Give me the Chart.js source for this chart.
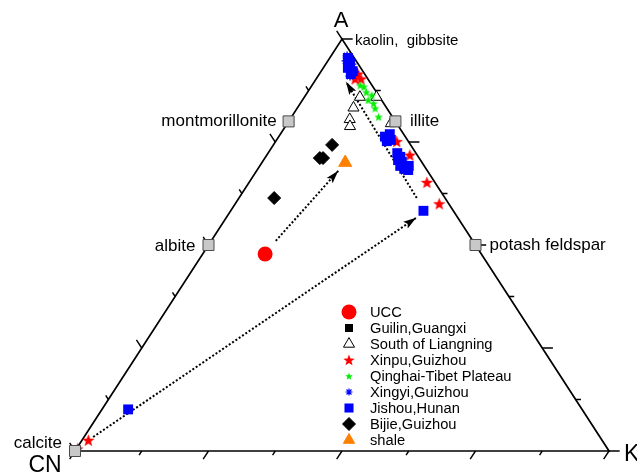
<!DOCTYPE html>
<html>
<head>
<meta charset="utf-8">
<script src="https://cdn.jsdelivr.net/npm/chart.js@4/dist/chart.umd.min.js"></script>
<style>
  html, body { margin: 0; padding: 0; background: #fff; overflow: hidden; }
  #wrap { width: 637px; height: 475px; }
</style>
</head>
<body>
<div id="wrap"><canvas id="c" width="637" height="475"></canvas></div>
<script>
// Compositions as [A, CN, K] molar proportions (%)
const uccPts       = [[47.8, 40.5, 11.7]];
const guilinPts    = [[94.9, 1.2, 3.9], [93.5, 1.6, 4.9]];
const liangningPts = [[85.9, 3.7, 10.4], [83.3, 6.2, 10.5], [80.5, 8.3, 11.2], [78.8, 9.1, 12.1],
                      [85.9, 0.6, 13.5], [79.5, 1.1, 19.4]];
const xinpuPts     = [[92.0, 1.9, 6.1], [91.5, 1.3, 7.2], [90.3, 2.4, 7.3], [90.3, 1.3, 8.4],
                      [75.1, 2.2, 22.7], [71.8, 1.4, 26.8], [65.2, 1.5, 33.3], [60.0, 1.8, 38.2],
                      [2.6, 96.2, 1.2], [0.5, 99.3, 0.2]];
const qinghaiPts   = [[88.8, 2.2, 9.0], [88.4, 1.7, 9.9], [87.1, 1.9, 11.0], [86.4, 1.2, 12.4],
                      [85.2, 2.5, 12.3], [84.4, 1.9, 13.7], [83.2, 2.2, 14.6], [81.1, 2.6, 16.3]];
const xingyiPts    = [[95.9, 1.1, 3.0], [95.2, 0.9, 3.9], [94.7, 1.9, 3.4], [93.9, 1.2, 4.9],
                      [92.5, 2.4, 5.1], [92.0, 1.6, 6.4], [91.0, 3.0, 6.0]];
const jishouPts    = [[95.4, 1.2, 3.4], [94.2, 1.4, 4.4], [93.0, 2.4, 4.6], [92.2, 1.9, 5.9], [91.5, 2.6, 5.9],
                      [76.3, 3.8, 19.9], [76.9, 2.6, 20.5], [75.5, 3.1, 21.4], [75.2, 4.0, 20.8],
                      [72.3, 3.5, 24.2], [71.4, 3.4, 25.2], [70.6, 4.2, 25.2], [70.2, 3.7, 26.1],
                      [69.2, 3.6, 27.2], [69.2, 2.9, 27.9], [68.5, 4.1, 27.4], [68.2, 3.5, 28.3],
                      [69.2, 4.5, 26.3], [58.3, 5.6, 36.1], [10.1, 85.0, 4.9]];
const bijiePts     = [[61.4, 32.0, 6.6], [71.1, 18.6, 10.3], [71.1, 18.0, 10.9], [74.3, 14.7, 11.0]];
const shalePts     = [[70.0, 14.4, 15.6]];

// End-member minerals on the triangle sides
const mineralNames = ['montmorillonite', 'albite', 'illite', 'potash feldspar', 'calcite'];
const mineralPts   = [[80, 20, 0], [50, 50, 0], [80, 0, 20], [50, 0, 50], [0, 100, 0]];

// Weathering trend arrows (start, end)
const trendUccShale  = [[51.0, 36.9, 12.1], [68.0, 16.7, 15.3]];
const trendCalcite   = [[3.4, 94.9, 1.7], [56.6, 7.8, 35.6]];
const trendPotassium = [[61.4, 5.3, 33.3], [89.6, 4.45, 5.95]];

// Triangle frame: CN -> K -> A -> CN
const framePts = [[0, 100, 0], [0, 0, 100], [100, 0, 0], [0, 100, 0]];
const tickDivisions = 8;

// ternary [A, CN, K] -> plane coordinates (K + A/2, A)
function tern(p) {
  const s = p[0] + p[1] + p[2];
  return { x: (p[2] + p[0] / 2) / s * 100, y: p[0] / s * 100 };
}

function tickSegments() {
  const out = [];
  const CN = [0, 0], K = [100, 0], A = [50, 100];
  const sides = [
    { from: CN, to: K, dir: [-50, -100] },  // base, ticks parallel to the CN–A side
    { from: K, to: A, dir: [100, 0] },      // right side, ticks parallel to the base
    { from: A, to: CN, dir: [-50, 100] }    // left side, ticks parallel to the K–A side
  ];
  sides.forEach(s => {
    for (let i = 0; i <= tickDivisions; i++) {
      const t = i / tickDivisions;
      const px = s.from[0] + t * (s.to[0] - s.from[0]);
      const py = s.from[1] + t * (s.to[1] - s.from[1]);
      const f = i % 2 === 0 ? 0.02 : 0.01;
      out.push({ x: px, y: py }, { x: px + f * s.dir[0], y: py + f * s.dir[1] }, { x: null, y: null });
    }
  });
  return out;
}

function starCanvas(size, color) {
  const c = document.createElement('canvas');
  c.width = c.height = size;
  const g = c.getContext('2d');
  const R = size / 2, r = R * 0.42;
  g.beginPath();
  for (let i = 0; i < 10; i++) {
    const rad = i % 2 ? r : R;
    const a = -Math.PI / 2 + i * Math.PI / 5;
    const x = R + rad * Math.cos(a), y = R + 0.5 + rad * Math.sin(a);
    i ? g.lineTo(x, y) : g.moveTo(x, y);
  }
  g.closePath();
  g.fillStyle = color;
  g.fill();
  return c;
}

const redStar = starCanvas(13, '#ff0000');
const redStarSmall = starCanvas(12, '#ff0000');
const greenStar = starCanvas(9, '#00ee00');
const greenStarSmall = starCanvas(8, '#00ee00');

const FONT = '"Liberation Sans", Arial, Helvetica, sans-serif';

function series(label, pts, style, legend) {
  return Object.assign({
    label, data: pts.map(tern), showLine: false, clip: false,
    pointHoverRadius: 0, legendMark: legend
  }, style);
}
function lineSet(data, style) {
  return Object.assign({
    data, showLine: true, pointRadius: 0, pointHoverRadius: 0, pointHitRadius: 0,
    clip: false, spanGaps: false, fill: false, tension: 0
  }, style);
}

const datasets = [
  series('minerals', mineralPts, {
    pointStyle: 'rect', pointRadius: 7.8, backgroundColor: '#c8c8c8', borderColor: '#4a4a4a', borderWidth: 1
  }),
  series('shale', shalePts, {
    pointStyle: 'triangle', pointRadius: 7.5, backgroundColor: '#ff8000', borderColor: '#ff8000', borderWidth: 1
  }, { pointStyle: 'triangle', radius: 6.5, fill: '#ff8000', stroke: '#ff8000', borderWidth: 1 }),
  series('UCC', uccPts, {
    pointStyle: 'circle', pointRadius: 7.5, backgroundColor: '#ff0000', borderColor: '#ff0000', borderWidth: 0
  }, { pointStyle: 'circle', radius: 7.5, fill: '#ff0000', stroke: '#ff0000', borderWidth: 0 }),
  series('Bijie,Guizhou', bijiePts, {
    pointStyle: 'rectRot', pointRadius: 6.5, backgroundColor: '#000', borderColor: '#000', borderWidth: 1
  }, { pointStyle: 'rectRot', radius: 6.5, fill: '#000', stroke: '#000', borderWidth: 1 }),
  series('Jishou,Hunan', jishouPts, {
    pointStyle: 'rect', pointRadius: 7, backgroundColor: '#0000ff', borderColor: '#0000ff', borderWidth: 0
  }, { pointStyle: 'rect', radius: 6.4, fill: '#0000ff', stroke: '#0000ff', borderWidth: 0 }),
  series('Xingyi,Guizhou', xingyiPts, {
    pointStyle: 'star', pointRadius: 4.5, backgroundColor: '#0000ff', borderColor: '#0000ff', borderWidth: 1.3
  }, { pointStyle: 'star', radius: 3.5, fill: '#0000ff', stroke: '#0000ff', borderWidth: 1.2 }),
  series('Qinghai-Tibet Plateau', qinghaiPts, {
    pointStyle: greenStar, pointRadius: 4.5
  }, { pointStyle: greenStarSmall, radius: 4 }),
  series('Xinpu,Guizhou', xinpuPts, {
    pointStyle: redStar, pointRadius: 6.5
  }, { pointStyle: redStarSmall, radius: 6 }),
  series('South of Liangning', liangningPts, {
    pointStyle: 'triangle', pointRadius: 6.4, backgroundColor: '#ffffff', borderColor: '#000', borderWidth: 1
  }, { pointStyle: 'triangle', radius: 6.4, fill: '#ffffff', stroke: '#000', borderWidth: 1 }),
  series('Guilin,Guangxi', guilinPts, {
    pointStyle: 'rect', pointRadius: 6, backgroundColor: '#000', borderColor: '#000', borderWidth: 0
  }, { pointStyle: 'rect', radius: 5.7, fill: '#000', stroke: '#000', borderWidth: 0 }),
  lineSet(trendUccShale.map(tern), { borderColor: '#000', borderWidth: 2, borderDash: [2, 2], arrow: true }),
  lineSet(trendCalcite.map(tern), { borderColor: '#000', borderWidth: 2, borderDash: [2, 2], arrow: true }),
  lineSet(trendPotassium.map(tern), { borderColor: '#000', borderWidth: 2, borderDash: [2, 2], arrow: true }),
  lineSet(tickSegments(), { borderColor: '#000', borderWidth: 1.4 }),
  lineSet(framePts.map(tern), { borderColor: '#000', borderWidth: 1.7 })
];

const legendOrder = ['UCC', 'Guilin,Guangxi', 'South of Liangning', 'Xinpu,Guizhou', 'Qinghai-Tibet Plateau',
                     'Xingyi,Guizhou', 'Jishou,Hunan', 'Bijie,Guizhou', 'shale'];

// arrow heads at the end of the trend lines
const arrowHeads = {
  id: 'arrowHeads',
  afterDatasetsDraw(chart) {
    const ctx = chart.ctx;
    chart.data.datasets.forEach((ds, i) => {
      if (!ds.arrow) return;
      const pts = chart.getDatasetMeta(i).data;
      const a = pts[pts.length - 2], b = pts[pts.length - 1];
      const ang = Math.atan2(b.y - a.y, b.x - a.x);
      const L = 13, W = 4;
      ctx.save();
      ctx.translate(b.x, b.y);
      ctx.rotate(ang);
      ctx.beginPath();
      ctx.moveTo(0, 0);
      ctx.lineTo(-L, -W);
      ctx.lineTo(-L * 0.8, 0);
      ctx.lineTo(-L, W);
      ctx.closePath();
      ctx.fillStyle = '#000';
      ctx.fill();
      ctx.restore();
    });
  }
};

// vertex and mineral names, plus the in-plot legend
const annotations = {
  id: 'annotations',
  afterDraw(chart) {
    const ctx = chart.ctx;
    const xs = chart.scales.x, ys = chart.scales.y;
    const P = p => { const t = tern(p); return [xs.getPixelForValue(t.x), ys.getPixelForValue(t.y)]; };
    ctx.save();
    ctx.fillStyle = '#000';
    ctx.textBaseline = 'middle';

    const text = (s, x, y, size, align) => {
      ctx.font = size + 'px ' + FONT;
      ctx.textAlign = align;
      ctx.fillText(s, x, y);
    };

    const [ax, ay] = P([100, 0, 0]);
    const [cx, cy] = P([0, 100, 0]);
    const [kx, ky] = P([0, 0, 100]);
    text('A', ax - 1, ay - 18, 22, 'center');
    text('CN', cx - 30, cy + 15, 23, 'center');
    text('K', kx + 15, ky + 4, 23, 'left');
    text('kaolin,  gibbsite', ax + 13, ay + 2, 15, 'left');

    const offsets = {
      'montmorillonite': [-12, 0, 'right'],
      'albite': [-13, 1, 'right'],
      'illite': [14.5, 0, 'left'],
      'potash feldspar': [14, 0, 'left'],
      'calcite': [-13, -8, 'right']
    };
    mineralNames.forEach((n, i) => {
      const [x, y] = P(mineralPts[i]);
      const o = offsets[n];
      text(n, x + o[0], y + o[1], 17, o[2]);
    });

    // legend
    const lx = 349, tx = 370, y0 = 312, step = 16;
    legendOrder.forEach((name, r) => {
      const ds = chart.data.datasets.find(d => d.label === name);
      const m = ds.legendMark;
      const y = y0 + r * step;
      ctx.save();
      ctx.fillStyle = m.fill || '#000';
      ctx.strokeStyle = m.stroke || '#000';
      ctx.lineWidth = m.borderWidth || 0;
      Chart.helpers.drawPoint(ctx, { pointStyle: m.pointStyle, radius: m.radius, borderWidth: m.borderWidth || 0, rotation: 0 }, lx, y);
      ctx.restore();
      ctx.fillStyle = '#000';
      text(name, tx, y + 0.5, 14.7, 'left');
    });
    ctx.restore();
  }
};

new Chart(document.getElementById('c'), {
  type: 'scatter',
  data: { datasets },
  options: {
    responsive: false,
    devicePixelRatio: 1,
    animation: false,
    events: [],
    layout: { padding: { left: 75, right: 28, top: 39, bottom: 24 } },
    scales: {
      x: { type: 'linear', min: 0, max: 100, display: false },
      y: { type: 'linear', min: 0, max: 100, display: false }
    },
    plugins: { legend: { display: false }, tooltip: { enabled: false } }
  },
  plugins: [arrowHeads, annotations]
});
</script>
</body>
</html>
